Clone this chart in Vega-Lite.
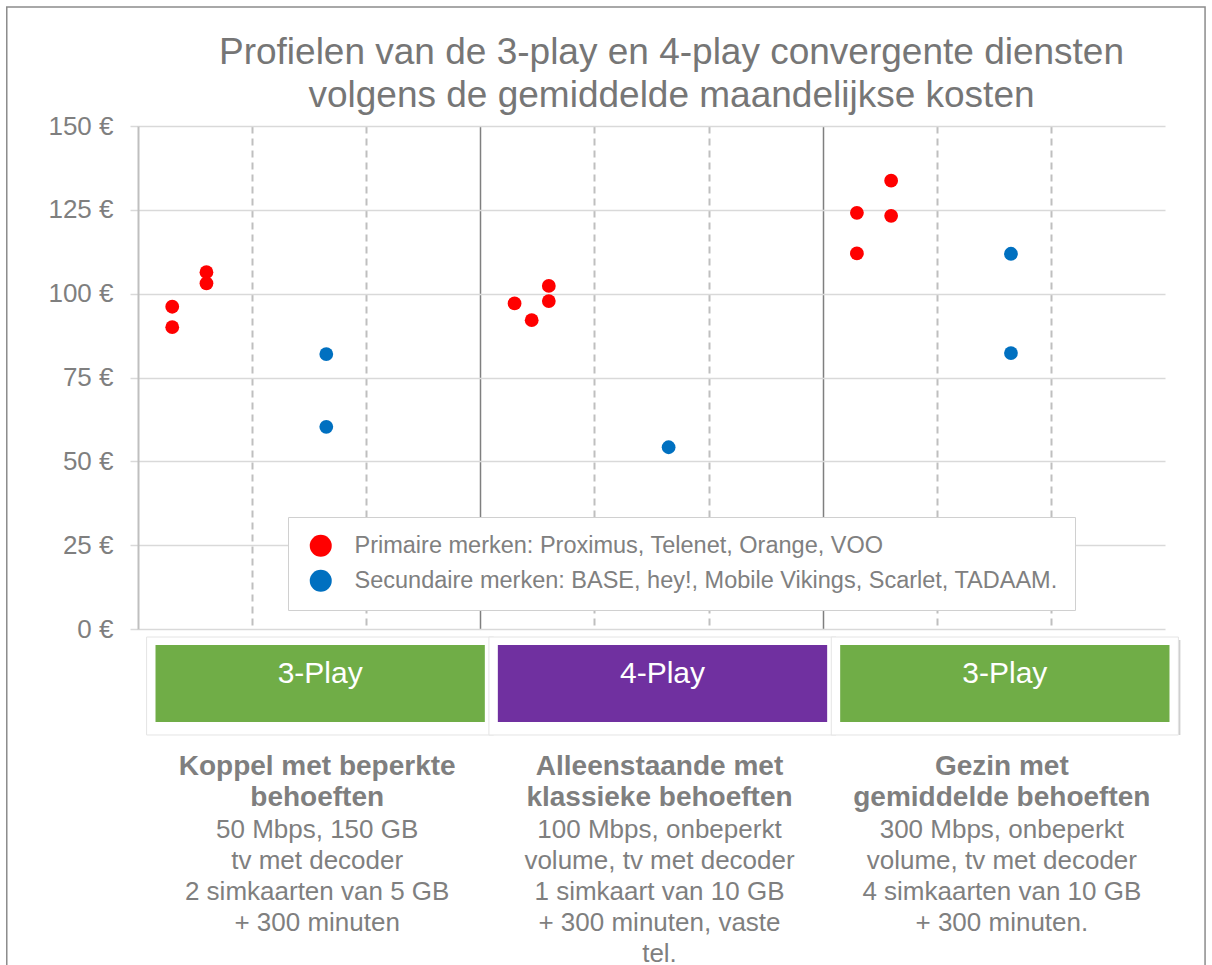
{
  "$schema": "https://vega.github.io/schema/vega-lite/v6.json",
  "width": 1027,
  "height": 503,
  "autosize": "none",
  "padding": {"left": 138, "top": 126, "right": 47, "bottom": 336},
  "background": "white",
  "config": {"view": {"stroke": null}, "font": "Liberation Sans"},
  "title": {
    "text": ["Profielen van de 3-play en 4-play convergente diensten", "volgens de gemiddelde maandelijkse kosten"],
    "fontSize": 37, "fontWeight": "normal", "color": "#767676", "lineHeight": 43,
    "anchor": "middle", "frame": "group", "dx": 20, "offset": -146, "baseline": "bottom"
  },
  "datasets": {
    "prijzen": [
      {"profiel": "Koppel met beperkte behoeften", "merk": "Primaire merken:  Proximus, Telenet, Orange, VOO", "x": 0.3, "kosten": 96.1},
      {"profiel": "Koppel met beperkte behoeften", "merk": "Primaire merken:  Proximus, Telenet, Orange, VOO", "x": 0.3, "kosten": 90.0},
      {"profiel": "Koppel met beperkte behoeften", "merk": "Primaire merken:  Proximus, Telenet, Orange, VOO", "x": 0.6, "kosten": 106.4},
      {"profiel": "Koppel met beperkte behoeften", "merk": "Primaire merken:  Proximus, Telenet, Orange, VOO", "x": 0.6, "kosten": 103.1},
      {"profiel": "Koppel met beperkte behoeften", "merk": "Secundaire merken: BASE, hey!, Mobile Vikings, Scarlet, TADAAM.", "x": 1.65, "kosten": 82.0},
      {"profiel": "Koppel met beperkte behoeften", "merk": "Secundaire merken: BASE, hey!, Mobile Vikings, Scarlet, TADAAM.", "x": 1.65, "kosten": 60.3},
      {"profiel": "Alleenstaande met klassieke behoeften", "merk": "Primaire merken:  Proximus, Telenet, Orange, VOO", "x": 3.3, "kosten": 97.1},
      {"profiel": "Alleenstaande met klassieke behoeften", "merk": "Primaire merken:  Proximus, Telenet, Orange, VOO", "x": 3.45, "kosten": 92.1},
      {"profiel": "Alleenstaande met klassieke behoeften", "merk": "Primaire merken:  Proximus, Telenet, Orange, VOO", "x": 3.6, "kosten": 102.3},
      {"profiel": "Alleenstaande met klassieke behoeften", "merk": "Primaire merken:  Proximus, Telenet, Orange, VOO", "x": 3.6, "kosten": 97.8},
      {"profiel": "Alleenstaande met klassieke behoeften", "merk": "Secundaire merken: BASE, hey!, Mobile Vikings, Scarlet, TADAAM.", "x": 4.65, "kosten": 54.2},
      {"profiel": "Gezin met gemiddelde behoeften", "merk": "Primaire merken:  Proximus, Telenet, Orange, VOO", "x": 6.3, "kosten": 124.1},
      {"profiel": "Gezin met gemiddelde behoeften", "merk": "Primaire merken:  Proximus, Telenet, Orange, VOO", "x": 6.3, "kosten": 112.0},
      {"profiel": "Gezin met gemiddelde behoeften", "merk": "Primaire merken:  Proximus, Telenet, Orange, VOO", "x": 6.6, "kosten": 133.7},
      {"profiel": "Gezin met gemiddelde behoeften", "merk": "Primaire merken:  Proximus, Telenet, Orange, VOO", "x": 6.6, "kosten": 123.2},
      {"profiel": "Gezin met gemiddelde behoeften", "merk": "Secundaire merken: BASE, hey!, Mobile Vikings, Scarlet, TADAAM.", "x": 7.65, "kosten": 111.9},
      {"profiel": "Gezin met gemiddelde behoeften", "merk": "Secundaire merken: BASE, hey!, Mobile Vikings, Scarlet, TADAAM.", "x": 7.65, "kosten": 82.3}
    ],
    "profielen": [
      {"profiel": "Koppel met beperkte behoeften", "pakket": "3-Play", "titel": "Koppel met beperkte\nbehoeften", "omschrijving": "50 Mbps, 150 GB\ntv met decoder\n2 simkaarten van 5 GB\n+ 300 minuten"},
      {"profiel": "Alleenstaande met klassieke behoeften", "pakket": "4-Play", "titel": "Alleenstaande met\nklassieke behoeften", "omschrijving": "100 Mbps, onbeperkt\nvolume, tv met decoder\n1 simkaart van 10 GB\n+ 300 minuten, vaste\ntel."},
      {"profiel": "Gezin met gemiddelde behoeften", "pakket": "3-Play", "titel": "Gezin met\ngemiddelde behoeften", "omschrijving": "300 Mbps, onbeperkt\nvolume, tv met decoder\n4 simkaarten van 10 GB\n+ 300 minuten."}
    ]
  },
  "layer": [
    {
      "data": {"values": [{}]},
      "mark": {"type": "rect", "fill": null, "fillOpacity": 0, "stroke": "#8c8c8c", "strokeWidth": 1.5},
      "encoding": {
        "x": {"datum": -1.15, "type": "quantitative", "scale": {"domain": [0, 9], "nice": false, "zero": false}, "axis": null},
        "x2": {"datum": 9.351},
        "y": {"datum": 185.5, "type": "quantitative"},
        "y2": {"datum": -110}
      }
    },
    {
      "data": {"name": "prijzen"},
      "mark": {"type": "circle", "opacity": 1, "size": 190},
      "encoding": {
        "x": {
          "field": "x", "type": "quantitative",
          "scale": {"domain": [0, 9], "nice": false, "zero": false},
          "axis": {
            "values": [1, 2, 3, 4, 5, 6, 7, 8], "labels": false, "ticks": false, "domain": false, "title": null, "grid": true,
            "gridColor": {"condition": {"test": "datum.value % 3 === 0", "value": "#7f7f7f"}, "value": "#bfbfbf"},
            "gridDash": {"condition": {"test": "datum.value % 3 === 0", "value": []}, "value": [7, 5]},
            "gridWidth": {"condition": {"test": "datum.value % 3 === 0", "value": 1.5}, "value": 2}
          }
        },
        "y": {
          "field": "kosten", "type": "quantitative",
          "scale": {"domain": [0, 150], "nice": false},
          "axis": {
            "values": [0, 25, 50, 75, 100, 125, 150], "labelExpr": "datum.value + ' €'", "title": null,
            "grid": true, "gridColor": "#d9d9d9", "gridWidth": 1.5,
            "tickColor": "#d9d9d9", "tickSize": 8, "tickWidth": 1.5,
            "domainColor": "#bfbfbf", "domainWidth": 2,
            "labelFontSize": 26, "labelColor": "#7f7f7f", "labelPadding": 17
          }
        },
        "color": {
          "field": "merk", "type": "nominal",
          "scale": {"domain": ["Primaire merken:  Proximus, Telenet, Orange, VOO", "Secundaire merken: BASE, hey!, Mobile Vikings, Scarlet, TADAAM."], "range": ["#ff0000", "#0070c0"]},
          "legend": {
            "orient": "none", "legendX": 150, "legendY": 391, "title": null, "direction": "vertical",
            "fillColor": "white", "strokeColor": "#d0d0d0", "padding": 17, "symbolOffset": 4,
            "symbolType": "circle", "symbolSize": 484, "symbolStrokeWidth": 0, "symbolOpacity": 1,
            "labelFontSize": 23.5, "labelColor": "#808080", "labelOffset": 22, "rowPadding": 10, "labelLimit": 0
          }
        }
      }
    },
    {
      "data": {"name": "profielen"},
      "mark": {"type": "rect", "color": "#cfcfcf", "width": {"band": 1.014}, "xOffset": 13, "yOffset": 3},
      "encoding": {
        "x": {"field": "profiel", "type": "nominal", "sort": null, "scale": {"paddingInner": 0, "paddingOuter": 0}, "axis": null},
        "y": {"datum": -2.39, "type": "quantitative"},
        "y2": {"datum": -31.61}
      }
    },
    {
      "data": {"name": "profielen"},
      "mark": {"type": "rect", "color": "white", "stroke": "#e4e4e4", "strokeWidth": 1, "width": {"band": 1.014}, "xOffset": 11},
      "encoding": {
        "x": {"field": "profiel", "type": "nominal", "sort": null, "scale": {"paddingInner": 0, "paddingOuter": 0}, "axis": null},
        "y": {"datum": -2.39, "type": "quantitative"},
        "y2": {"datum": -31.61}
      }
    },
    {
      "data": {"name": "profielen"},
      "mark": {"type": "rect", "width": {"band": 0.962}, "xOffset": 11},
      "encoding": {
        "x": {"field": "profiel", "type": "nominal", "sort": null, "scale": {"paddingInner": 0, "paddingOuter": 0}, "axis": null},
        "y": {"datum": -4.77, "type": "quantitative"},
        "y2": {"datum": -27.73},
        "color": {"field": "pakket", "type": "nominal", "scale": {"domain": ["3-Play", "4-Play"], "range": ["#70ad47", "#7030a0"]}, "legend": null}
      }
    },
    {
      "data": {"name": "profielen"},
      "mark": {"type": "text", "color": "white", "fontSize": 30, "dx": 11, "baseline": "alphabetic"},
      "encoding": {
        "x": {"field": "profiel", "type": "nominal", "sort": null, "scale": {"paddingInner": 0, "paddingOuter": 0}, "axis": null},
        "y": {"datum": -16.1, "type": "quantitative"},
        "text": {"field": "pakket"}
      }
    },
    {
      "data": {"name": "profielen"},
      "mark": {"type": "text", "color": "#7f7f7f", "fontSize": 28, "fontWeight": "bold", "lineHeight": 31, "lineBreak": "\n", "dx": 8, "baseline": "alphabetic"},
      "encoding": {
        "x": {"field": "profiel", "type": "nominal", "sort": null, "scale": {"paddingInner": 0, "paddingOuter": 0}, "axis": null},
        "y": {"datum": -43.5, "type": "quantitative"},
        "text": {"field": "titel"}
      }
    },
    {
      "data": {"name": "profielen"},
      "mark": {"type": "text", "color": "#7f7f7f", "fontSize": 26, "lineHeight": 31, "lineBreak": "\n", "dx": 8, "baseline": "alphabetic"},
      "encoding": {
        "x": {"field": "profiel", "type": "nominal", "sort": null, "scale": {"paddingInner": 0, "paddingOuter": 0}, "axis": null},
        "y": {"datum": -62.3, "type": "quantitative"},
        "text": {"field": "omschrijving"}
      }
    }
  ],
  "resolve": {"scale": {"x": "independent", "color": "independent"}}
}
